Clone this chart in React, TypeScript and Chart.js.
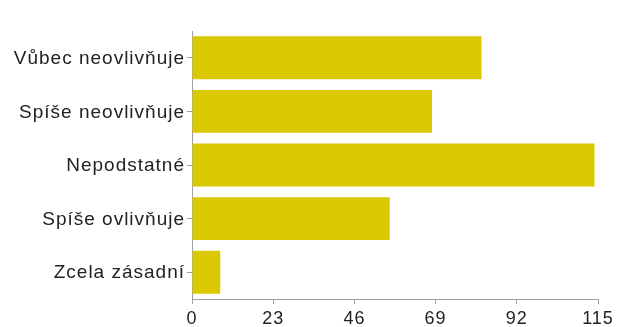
import React, { useEffect, useRef } from "react";
import { Chart, registerables } from "chart.js";

Chart.register(...registerables);

const categories = [
  "Vůbec neovlivňuje",
  "Spíše neovlivňuje",
  "Nepodstatné",
  "Spíše ovlivňuje",
  "Zcela zásadní",
];
const values = [82, 68, 114, 56, 8];
const xTicks = [0, 23, 46, 69, 92, 115];

const spacingPlugin = {
  id: "spacing",
  beforeDraw(chart: any) {
    (chart.ctx as any).letterSpacing = "1px";
  },
};

export default function App() {
  const ref = useRef<HTMLCanvasElement | null>(null);

  useEffect(() => {
    if (!ref.current) return;
    const chart = new Chart(ref.current, {
      type: "bar",
      data: {
        labels: categories,
        datasets: [
          {
            data: values,
            backgroundColor: "#dac800",
            borderWidth: 0,
            categoryPercentage: 0.8,
            barPercentage: 1,
          },
        ],
      },
      plugins: [spacingPlugin],
      options: {
        indexAxis: "y",
        animation: false,
        responsive: false,
        maintainAspectRatio: false,
        layout: { padding: { left: 8, right: 20, top: 31, bottom: 0 } },
        plugins: { legend: { display: false }, tooltip: { enabled: false } },
        scales: {
          x: {
            type: "linear",
            min: 0,
            max: 115,
            afterBuildTicks: (scale: any) => {
              scale.ticks = xTicks.map((v) => ({ value: v }));
            },
            afterFit: (scale: any) => {
              scale.height = 28;
            },
            grid: {
              drawOnChartArea: false,
              drawTicks: true,
              tickLength: 5,
              color: "#a0a0a0",
            },
            border: { display: true, color: "#a0a0a0", width: 1 },
            ticks: {
              color: "#222",
              padding: 4,
              maxRotation: 0,
              autoSkip: false,
              font: { family: "'Liberation Sans', Arial, sans-serif", size: 18 },
            },
          },
          y: {
            afterFit: (scale: any) => {
              scale.width = 184;
            },
            grid: {
              offset: false,
              drawOnChartArea: false,
              drawTicks: true,
              tickLength: 5,
              color: "#a0a0a0",
            },
            border: { display: true, color: "#a0a0a0", width: 1 },
            ticks: {
              color: "#222",
              padding: 2,
              labelOffset: 1,
              autoSkip: false,
              font: { family: "'Liberation Sans', Arial, sans-serif", size: 19 },
            },
          },
        },
      },
    });
    return () => chart.destroy();
  }, []);

  return (
    <div style={{ position: "fixed", left: 0, top: 0, width: 618, height: 327, background: "#fff" }}>
      <canvas ref={ref} width={618} height={327} style={{ display: "block", width: 618, height: 327 }} />
    </div>
  );
}
